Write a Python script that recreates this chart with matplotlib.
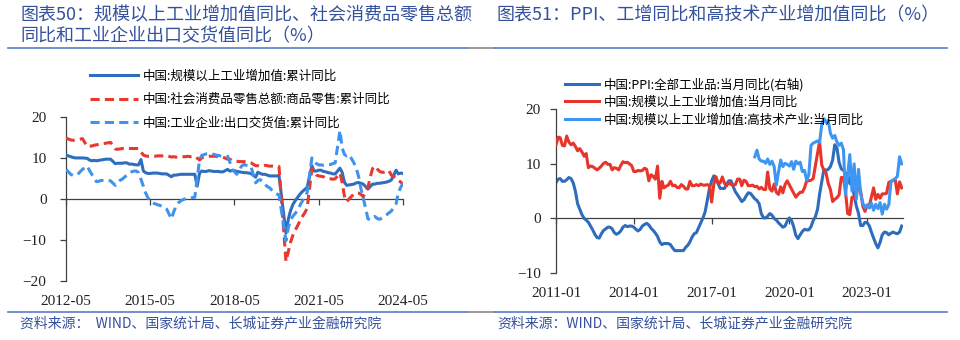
import numpy as np
import pandas as pd
import matplotlib
matplotlib.use('Agg')
import matplotlib.pyplot as plt
import matplotlib.dates as mdates
from matplotlib.lines import Line2D

plt.rcParams['font.family'] = ['Noto Sans CJK SC', 'DejaVu Sans']
plt.rcParams['axes.unicode_minus'] = True
nan = np.nan

# ---------------- data: left panel (monthly, 2012-05 .. 2024-05) ----------------
left_start, left_end = '2012-05-01', '2024-05-01'
left_titles = ['图表50：规模以上工业增加值同比、社会消费品零售总额', '同比和工业企业出口交货值同比（%）']
left_labels = ['中国:规模以上工业增加值:累计同比',
               '中国:社会消费品零售总额:商品零售:累计同比',
               '中国:工业企业:出口交货值:累计同比']
left_xticks = ['2012-05', '2015-05', '2018-05', '2021-05', '2024-05']
left_yticks = [-20, -10, 0, 10, 20]

ind_cum = [10.7, 10.5, 10.3, 10.1, 10.0, 10.0, 10.0, 10.0,
           nan, 9.9, 9.5, 9.3, 9.4, 9.3, 9.4, 9.5, 9.6, 9.7, 9.7, 9.7,
           nan, 8.6, 8.7, 8.7, 8.7, 8.8, 8.8, 8.5, 8.5, 8.4, 8.3, 8.3,
           9.6, 6.8, 6.4, 6.2, 6.2, 6.3, 6.3, 6.3, 6.2, 6.1, 6.1, 6.1,
           nan, 5.4, 5.8, 5.8, 5.9, 6.0, 6.0, 6.0, 6.0, 6.0, 6.0, 6.0,
           3.1, 6.3, 6.8, 6.7, 6.7, 6.9, 6.8, 6.7, 6.7, 6.7, 6.6, 6.6,
           nan, 7.2, 6.8, 6.9, 6.9, 6.7, 6.6, 6.5, 6.4, 6.4, 6.3, 6.2,
           nan, 5.3, 6.5, 6.2, 6.0, 6.0, 5.8, 5.6, 5.6, 5.6, 5.6, 5.7,
           nan, nan, -8.4, -4.9, -2.8, -1.3, -0.4, 0.4, 1.2, 1.8, 2.3, 2.8,
           nan, 8.1, 6.8, 6.8, 7.0, 7.0, 6.7, 6.6, 6.4, 6.3, 6.1, 6.1,
           nan, 7.5, 6.5, 4.0, 3.3, 3.4, 3.5, 3.6, 3.9, 4.0, 3.8, 3.6,
           nan, 2.4, 3.0, 3.6, 3.6, 3.8, 3.8, 3.9, 4.0, 4.1, 4.3, 4.6,
           nan, 7.0, 6.1, 6.3, 6.2]

retail_cum = [14.9, 14.6, 14.4, 14.3, 14.4, 14.5, 14.6, 14.7,
              nan, 12.8, 12.9, 12.9, 13.1, 13.2, 13.3, 13.4, 13.5, 13.6, 13.7, 13.8,
              nan, 12.2, 12.1, 12.2, 12.3, 12.3, 12.3, 12.3, 12.3, 12.3, 12.3, 12.3,
              nan, 10.7, 10.5, 10.4, 10.4, 10.4, 10.4, 10.5, 10.5, 10.5, 10.6, 10.6,
              nan, 10.2, 10.3, 10.2, 10.2, 10.3, 10.3, 10.3, 10.4, 10.3, 10.4, 10.4,
              nan, 9.5, 10.0, 10.2, 10.3, 10.4, 10.4, 10.4, 10.4, 10.3, 10.3, 10.2,
              nan, 9.7, 9.7, 9.3, 9.3, 9.2, 9.1, 9.1, 9.1, 9.0, 8.9, 8.8,
              nan, 8.1, 8.1, 7.9, 8.0, 8.2, 8.1, 8.0, 8.0, 7.9, 7.9, 7.9,
              nan, nan, -15.3, -12.8, -10.5, -8.8, -7.6, -6.5, -5.3, -4.3, -3.4, -2.3,
              nan, 7.4, 6.6, 5.8, 5.6, 5.5, 5.4, 5.1, 4.9, 4.9, 4.8, 4.9,
              nan, 6.3, 4.0, 0.6, -0.7, 0.0, 0.6, 1.2, 1.4, 1.4, 1.1, 0.5,
              nan, 2.9, 5.2, 7.4, 8.0, 7.3, 6.7, 6.5, 6.5, 6.6, 6.9, 5.8,
              nan, 5.2, 4.5, 4.1, 3.5]

export_cum = [7.2, 6.6, 6.0, 5.7, 5.8, 6.0, 6.6, 7.2,
              nan, 8.0, 7.0, 6.0, 5.0, 4.2, 4.3, 4.5, 4.5, 4.6, 4.5, 4.4,
              nan, 3.3, 4.0, 4.5, 4.8, 5.3, 5.8, 6.3, 6.6, 6.8, 6.8, 6.4,
              nan, 3.1, 1.5, 0.3, -0.6, -1.0, -1.2, -1.4, -1.6, -1.8, -2.0, -2.5,
              nan, -4.9, -3.2, -1.8, -1.0, -0.5, -0.2, 0.0, 0.1, 0.2, 0.3, 0.4,
              nan, 9.6, 10.6, 10.8, 11.0, 11.0, 11.0, 10.9, 10.7, 10.6, 10.5, 10.5,
              nan, 10.4, 9.0, 7.2, 6.6, 6.0, 7.0, 8.0, 8.4, 8.2, 8.1, 8.0,
              nan, 3.9, 4.5, 4.7, 4.2, 3.6, 3.0, 2.7, 2.1, 1.5, 1.2, 1.0,
              nan, nan, -10.2, -7.0, -5.0, -4.2, -3.5, -2.8, -1.5, -0.5, 0.5, 1.5,
              nan, 10.0, 9.2, 8.6, 8.3, 8.3, 8.2, 8.3, 8.4, 8.4, 8.6, 8.8,
              nan, 16.7, 12.5, 10.8, 10.5, 10.8, 9.8, 8.8, 7.5, 5.5, 2.5, 0.2,
              nan, -4.9, -5.1, -4.6, -4.3, -4.8, -5.0, -4.7, -4.3, -3.9, -3.4, -3.0,
              nan, -1.2, 1.5, 2.8, 3.8]

# ---------------- data: right panel (monthly, 2011-01 .. 2024-05) ----------------
right_start, right_end = '2011-01-01', '2024-05-01'
right_title = '图表51：PPI、工增同比和高技术产业增加值同比（%）'
right_labels = ['中国:PPI:全部工业品:当月同比(右轴)',
                '中国:规模以上工业增加值:当月同比',
                '中国:规模以上工业增加值:高技术产业:当月同比']
right_xticks = ['2011-01', '2014-01', '2017-01', '2020-01', '2023-01']
right_yticks = [-10, 0, 10, 20]

ppi = [6.6, 7.2, 7.3, 6.8, 6.8, 7.1, 7.5, 7.3, 6.5, 5.0, 2.7, 1.7,
       0.7, 0.0, -0.3, -0.7, -1.4, -2.1, -2.9, -3.5, -3.6, -2.8, -2.2, -1.9,
       -1.6, -1.6, -1.9, -2.6, -2.9, -2.7, -2.3, -1.6, -1.3, -1.5, -1.4, -1.4,
       -1.6, -2.0, -2.3, -2.0, -1.4, -1.1, -0.9, -1.2, -1.8, -2.2, -2.7, -3.3,
       -4.3, -4.8, -4.6, -4.6, -4.6, -4.8, -5.4, -5.9, -5.9, -5.9, -5.9, -5.9,
       -5.3, -4.9, -4.3, -3.4, -2.8, -2.6, -1.7, -0.8, 0.1, 1.2, 3.3, 5.5,
       6.9, 7.8, 7.6, 6.4, 5.5, 5.5, 5.5, 6.3, 6.9, 6.9, 5.8, 4.9,
       4.3, 3.7, 3.1, 3.4, 4.1, 4.7, 4.6, 4.1, 3.6, 3.3, 2.7, 0.9,
       0.1, 0.1, 0.4, 0.9, 0.6, 0.0, -0.3, -0.8, -1.2, -1.6, -1.4, -0.5,
       0.1, -0.4, -1.5, -3.1, -3.7, -3.0, -2.4, -2.0, -2.1, -2.1, -1.5, -0.4,
       0.3, 1.7, 4.4, 6.8, 9.0, 8.8, 9.0, 9.5, 10.7, 13.5, 12.9, 10.3,
       9.1, 8.8, 8.3, 8.0, 6.4, 6.1, 4.2, 2.3, 0.9, -1.3, -1.3, -0.7,
       -0.8, -1.4, -2.5, -3.6, -4.6, -5.4, -4.4, -3.0, -2.5, -2.6, -3.0, -2.7,
       -2.5, -2.7, -2.8, -2.5, -1.4]

ind_month = [13.5, 14.9, 14.8, 13.4, 13.3, 15.1, 14.0, 13.5, 13.8, 13.2, 12.4, 12.8,
             12.2, 11.4, 11.9, 9.3, 9.6, 9.5, 9.2, 8.9, 9.2, 9.6, 10.1, 10.3,
             9.9, 9.9, 8.9, 9.3, 9.2, 8.9, 9.7, 10.4, 10.2, 10.3, 10.0, 9.7,
             8.6, 8.6, 8.8, 8.7, 8.8, 9.2, 9.0, 6.9, 8.0, 7.7, 7.2, 9.6,
             3.7, 6.8, 5.6, 5.9, 6.1, 6.8, 6.0, 6.1, 5.7, 5.6, 6.2, 5.9,
             5.4, 5.4, 6.8, 6.0, 6.0, 6.2, 6.0, 6.3, 6.1, 6.1, 6.2, 6.0,
             3.0, 6.3, 7.6, 6.5, 6.5, 7.6, 6.4, 6.0, 6.6, 6.2, 6.1, 6.2,
             7.2, 7.2, 6.0, 7.0, 6.8, 6.0, 6.0, 6.1, 5.8, 5.9, 5.4, 5.7,
             5.3, 5.3, 8.5, 5.4, 5.0, 6.3, 4.8, 4.4, 5.8, 4.7, 6.2, 6.9,
             nan, nan, nan, 3.9, 4.4, 4.8, 4.8, 5.6, 6.9, 6.9, 7.0, 7.3,
             nan, nan, 14.1, 9.8, 8.8, 8.3, 6.4, 5.3, 3.1, 3.5, 3.8, 4.3,
             7.5, 7.5, 5.0, 0.9, 0.7, 3.9, 3.8, 4.2, 6.3, 5.0, 2.2, 1.3,
             2.4, 2.4, 3.9, 5.6, 3.5, 4.4, 3.7, 4.5, 4.5, 4.6, 6.6, 6.8,
             7.0, 7.0, 4.5, 6.7, 5.6]

hitech_start = '2018-09-01'
hitech_month = [11.3, 12.5, 10.9, 10.5,
                10.5, 10.1, 10.9, 9.9, 10.5, 9.5, 6.1, 8.5, 10.7, 9.5, 10.1, 9.9,
                9.6, 10.4, 9.0, 10.5, 10.0, 10.3, 8.6, 8.8, 7.0, 8.0, 13.4, 13.8,
                14.0, 14.2, 13.9, 17.2, 18.3, 17.6, 18.0, 15.6, 14.7, 15.2, 14.0, 13.4,
                13.8, 12.6, 4.3, 8.0, 11.7, 5.0, 10.0, 3.5, 9.0, 4.5, 2.8, 2.0,
                2.5, 1.9, 2.8, 1.5, 2.6, 1.8, 2.9, 0.8, 2.6, 1.7, 2.5, 6.7,
                7.0, 7.3, 7.7, 11.3, 10.0]

footer = '资料来源：WIND、国家统计局、长城证券产业金融研究院'

# ---------------- helpers ----------------
TICK_FONT = 'Liberation Serif'
TITLE_C = '#34519E'
AX_C = '#404040'


def plot_series(ax, dates, values, **kw):
    x = mdates.date2num(pd.DatetimeIndex(dates).to_pydatetime())
    v = np.asarray(values, dtype=float)
    m = ~np.isnan(v)
    return ax.plot(x[m], v[m], **kw)[0]


def style_axes(ax, xlim, xticks, yticks, tick_pad_x, tick_pad_y):
    ax.set_xlim(*xlim)
    ax.set_ylim(min(yticks), max(yticks))
    for s in ['top', 'right', 'bottom']:
        ax.spines[s].set_visible(False)
    ax.spines['left'].set_color(AX_C)
    ax.spines['left'].set_linewidth(0.9)
    tnum = mdates.date2num(pd.to_datetime(xticks).to_pydatetime())
    ax.set_xticks(tnum)
    ax.set_xticklabels(xticks, fontfamily=TICK_FONT, fontsize=11, color='#222222')
    ax.tick_params(axis='x', length=0, pad=tick_pad_x)
    ax.set_yticks(yticks)
    ax.set_yticklabels([str(t).replace('-', '\u2212') for t in yticks],
                       fontfamily=TICK_FONT, fontsize=11, color='#222222')
    ax.tick_params(axis='y', direction='out', length=4, width=0.9, color=AX_C, pad=tick_pad_y)
    # zero line with its own tick marks
    y0, y1 = ax.get_ylim()
    sec = ax.secondary_xaxis((0 - y0) / (y1 - y0))
    sec.set_alignment('bottom')
    sec.set_xticks(tnum)
    sec.tick_params(axis='x', direction='out', length=4, width=0.9, color=AX_C,
                    labelbottom=False, labeltop=False)
    sec.spines['bottom'].set_color(AX_C)
    sec.spines['bottom'].set_linewidth(0.9)
    ax.patch.set_alpha(0)


fig = plt.figure(figsize=(9.6, 3.4), dpi=100)

# ---------------- left panel ----------------
axL = fig.add_axes([66 / 960, 1 - 280.7 / 340, 337 / 960, 163.7 / 340])
ld = pd.date_range(left_start, left_end, freq='MS')
h1 = plot_series(axL, ld, ind_cum, color='#2F6EBE', lw=2.2, zorder=3)
h2 = plot_series(axL, ld, retail_cum, color='#E8392F', lw=2.2, dashes=(3, 1.7), zorder=3)
h3 = plot_series(axL, ld, export_cum, color='#3F93EC', lw=2.2, dashes=(3, 1.7), zorder=4)
lx = mdates.date2num(pd.to_datetime([left_start, left_end]).to_pydatetime())
style_axes(axL, (lx[0], lx[1]), left_xticks, left_yticks, 10, 10)
axL.legend([h1, h2, h3], left_labels, loc='upper left',
           bbox_to_anchor=(90 / 960, 1 - 69.5 / 340), bbox_transform=fig.transFigure,
           frameon=False, fontsize=9, handlelength=3.8, handletextpad=0.4,
           labelspacing=0.85, borderpad=0, borderaxespad=0)

# ---------------- right panel ----------------
axR = fig.add_axes([556 / 960, 1 - 273 / 340, 346.7 / 960, 163.7 / 340])
rd = pd.date_range(right_start, right_end, freq='MS')
hd = pd.date_range(hitech_start, right_end, freq='MS')
g1 = plot_series(axR, rd, ppi, color='#2E6DBC', lw=2.2, zorder=2)
g2 = plot_series(axR, rd, ind_month, color='#E8352B', lw=2.2, zorder=3)
g3 = plot_series(axR, hd, hitech_month, color='#3D96F2', lw=2.2, zorder=4)
rx = mdates.date2num(pd.to_datetime([right_start, '2024-05-15']).to_pydatetime())
style_axes(axR, (rx[0], rx[1]), right_xticks, right_yticks, 10, 7)
axR.legend([g1, g2, g3], right_labels, loc='upper left',
           bbox_to_anchor=(565 / 960, 1 - 77.5 / 340), bbox_transform=fig.transFigure,
           frameon=False, fontsize=9, handlelength=2.7, handletextpad=0.4,
           labelspacing=0.38, borderpad=0, borderaxespad=0)

# ---------------- titles, footers, rules ----------------
fig.text(20 / 960, 1 - 15 / 340, left_titles[0], color=TITLE_C, fontsize=13, va='center')
fig.text(20 / 960, 1 - 36 / 340, left_titles[1], color=TITLE_C, fontsize=13, va='center')
fig.text(497 / 960, 1 - 15 / 340, right_title, color=TITLE_C, fontsize=13, va='center')
fig.text(20 / 960, 1 - 323 / 340, footer.replace('：', '：  '), color=TITLE_C, fontsize=10, va='center')
fig.text(497 / 960, 1 - 323 / 340, footer, color=TITLE_C, fontsize=10, va='center')


def hrule(x0, x1, y, c):
    fig.add_artist(Line2D([x0 / 960, x1 / 960], [1 - y / 340, 1 - y / 340],
                          transform=fig.transFigure, color=c, lw=1.2))


for yy in (48.3, 312.3):
    hrule(8, 468, yy, '#5B7CC6')
    hrule(468, 480, yy, '#8A8A8A')
    hrule(480, 495, yy, '#8A8A8A')
    hrule(495, 947, yy, '#5B7CC6')

fig.savefig('out.png', dpi=100)
